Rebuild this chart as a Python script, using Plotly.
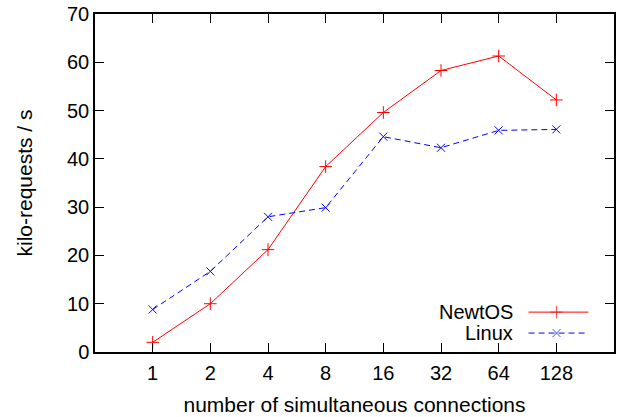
import plotly.graph_objects as go

connections = ["1", "2", "4", "8", "16", "32", "64", "128"]
newtos = [2.0, 10.0, 21.2, 38.4, 49.6, 58.3, 61.3, 52.2]
linux = [8.8, 16.7, 28.0, 29.9, 44.6, 42.3, 45.9, 46.1]
y_ticks = [0, 10, 20, 30, 40, 50, 60, 70]
series_names = ["NewtOS", "Linux"]

FONT = "Liberation Sans, Arial, Helvetica, sans-serif"
RED = "rgb(255,0,0)"
BLUE = "rgb(0,0,255)"
LINUX_DASH = "6px,4px"

pos = list(range(1, len(connections) + 1))

fig = go.Figure()
fig.add_trace(go.Scatter(
    x=pos, y=newtos, mode="lines+markers", name=series_names[0],
    line=dict(color=RED, width=1),
    marker=dict(symbol="cross-thin-open", size=9, line=dict(color=RED, width=1)),
    showlegend=False))
fig.add_trace(go.Scatter(
    x=pos, y=linux, mode="lines+markers", name=series_names[1],
    line=dict(color=BLUE, width=1, dash=LINUX_DASH),
    marker=dict(symbol="x-thin-open", size=8, line=dict(color=BLUE, width=1)),
    showlegend=False))

# gnuplot-style legend (text left, sample right), drawn on a hidden 0..1 overlay axis
key_x = [0.8354, 0.8893, 0.9507]
key_rows = [0.118, 0.056]
styles = [(RED, "solid", "cross-thin-open", 9), (BLUE, LINUX_DASH, "x-thin-open", 8)]
for name, ky, (col, dash, sym, sz) in zip(series_names, key_rows, styles):
    fig.add_trace(go.Scatter(
        x=key_x, y=[ky] * 3, xaxis="x2", yaxis="y2", mode="lines+markers",
        line=dict(color=col, width=1, dash=dash),
        marker=dict(symbol=sym, size=[0, sz, 0], line=dict(color=col, width=1)),
        showlegend=False, hoverinfo="skip"))
    fig.add_annotation(x=0.8085, y=ky, xref="paper", yref="paper", text=name,
                       showarrow=False, xanchor="right", yanchor="middle",
                       font=dict(family=FONT, size=20, color="black"))

axis_common = dict(showline=True, linecolor="black", linewidth=1.5, mirror="ticks",
                   ticks="inside", ticklen=9, tickwidth=1.2, tickcolor="black",
                   showgrid=False, zeroline=False,
                   tickfont=dict(family=FONT, size=20, color="black"))

fig.update_layout(
    width=618, height=417,
    margin=dict(l=95, r=2, t=14, b=65),
    paper_bgcolor="white", plot_bgcolor="white",
    font=dict(family=FONT, size=20, color="black"),
    xaxis=dict(range=[0, 9], tickmode="array", tickvals=pos, ticktext=connections,
               ticklabelstandoff=2,
               title=dict(text="number of simultaneous connections", standoff=15,
                          font=dict(family=FONT, size=21)),
               **axis_common),
    yaxis=dict(range=[0, 70], tickmode="array", tickvals=y_ticks,
               title=dict(text="kilo-requests / s", standoff=29,
                          font=dict(family=FONT, size=21)),
               **axis_common),
    xaxis2=dict(range=[0, 1], overlaying="x", visible=False),
    yaxis2=dict(range=[0, 1], overlaying="y", visible=False),
)

fig.write_html("out.html")
